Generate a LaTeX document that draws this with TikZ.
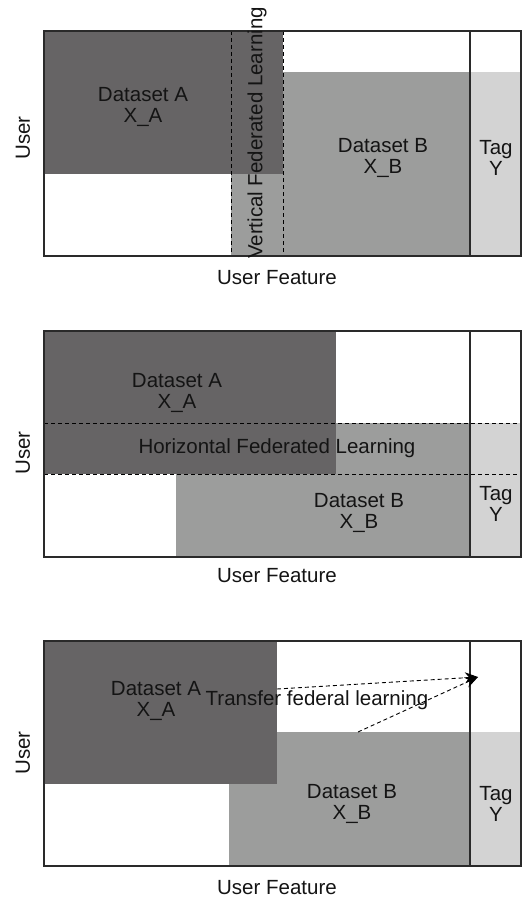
\documentclass[tikz,border=0pt]{standalone}
\usepackage{fontspec}
\setmainfont{Liberation Sans}
\usetikzlibrary{arrows.meta}

\definecolor{darkset}{HTML}{666465}
\definecolor{midset}{HTML}{9C9D9C}
\definecolor{tagset}{HTML}{D3D3D3}
\definecolor{rule}{HTML}{2A2A2A}
\definecolor{ink}{HTML}{141414}

\tikzset{
  block/.style={anchor=north west, inner sep=0pt, outer sep=0pt, draw=none},
  setA/.style={block, fill=darkset},
  setB/.style={block, fill=midset},
  settag/.style={block, fill=tagset},
  framebox/.style={block, draw=rule, line width=1.3pt},
  divider/.style={draw=rule, line width=1.3pt},
  dashrule/.style={draw=black, line width=0.9pt, dash pattern=on 4pt off 3pt},
  lbl/.style={text=ink, font=\fontsize{20.5}{21}\selectfont, align=center, inner sep=0pt},
  axislbl/.style={lbl},
  flow/.style={dashrule, -{Stealth[length=13pt,width=11pt]}}
}

\begin{document}
\begin{tikzpicture}[x=1pt, y=-1pt]
\useasboundingbox (0,0) rectangle (522,899);

% ---------- vertical federated learning ----------
\node[setB, minimum width=239pt, minimum height=184pt] (B1) at (231,72) {};
\node[settag, minimum width=52pt, minimum height=184pt] (T1) at (470,72) {};
\node[setA, minimum width=239pt, minimum height=143pt] (A1) at (44,31) {};
\coordinate (v1t) at (231,31); \coordinate (v1b) at (231,256);
\coordinate (v2t) at (283,31); \coordinate (v2b) at (283,256);
\draw[dashrule] (v1t) -- (v1b);
\draw[dashrule] (v2t) -- (v2b);
\node[framebox, minimum width=477pt, minimum height=225pt] (F1) at (44,31) {};
\coordinate (d1t) at (470,31); \coordinate (d1b) at (470,256);
\draw[divider] (d1t) -- (d1b);
\node[lbl] (la1) at (143,107) {Dataset A\\X\_A};
\node[lbl] (lb1) at (383,158) {Dataset B\\X\_B};
\node[lbl] (lt1) at (496,158) {Tag\\Y};
\node[lbl, rotate=90] (vfl) at (257,133) {Vertical Federated Learning};
\node[axislbl, rotate=90] (u1) at (23,138) {User};
\node[axislbl] (f1) at (277,278) {User Feature};

% ---------- horizontal federated learning ----------
\node[setB, minimum width=294pt, minimum height=134pt] (B2) at (176,423) {};
\node[settag, minimum width=52pt, minimum height=134pt] (T2) at (470,423) {};
\node[setA, minimum width=292pt, minimum height=143pt] (A2) at (44,331) {};
\coordinate (h1l) at (44,423); \coordinate (h1r) at (522,423);
\coordinate (h2l) at (44,474); \coordinate (h2r) at (522,474);
\draw[dashrule] (h1l) -- (h1r);
\draw[dashrule] (h2l) -- (h2r);
\node[framebox, minimum width=477pt, minimum height=226pt] (F2) at (44,331) {};
\coordinate (d2t) at (470,331); \coordinate (d2b) at (470,557);
\draw[divider] (d2t) -- (d2b);
\node[lbl] (la2) at (177,393) {Dataset A\\X\_A};
\node[lbl] (hfl) at (277,448) {Horizontal Federated Learning};
\node[lbl] (lb2) at (359,513) {Dataset B\\X\_B};
\node[lbl] (lt2) at (496,504) {Tag\\Y};
\node[axislbl, rotate=90] (u2) at (23,453) {User};
\node[axislbl] (f2) at (277,576) {User Feature};

% ---------- transfer federated learning ----------
\node[setB, minimum width=241pt, minimum height=134pt] (B3) at (229,732) {};
\node[settag, minimum width=52pt, minimum height=134pt] (T3) at (470,732) {};
\node[setA, minimum width=233pt, minimum height=143pt] (A3) at (44,641) {};
\node[framebox, minimum width=477pt, minimum height=225pt] (F3) at (44,641) {};
\coordinate (d3t) at (470,641); \coordinate (d3b) at (470,866);
\draw[divider] (d3t) -- (d3b);
\node[lbl] (la3) at (156,701) {Dataset A\\X\_A};
\node[lbl] (tfl) at (317,700) {Transfer federal learning};
\node[lbl] (lb3) at (352,804) {Dataset B\\X\_B};
\node[lbl] (lt3) at (496,804) {Tag\\Y};
\coordinate (srcA) at (277,689);
\coordinate (srcB) at (358,732);
\coordinate (goal) at (478,677);
\draw[flow] (srcA) -- (goal);
\draw[flow] (srcB) -- (goal);
\node[axislbl, rotate=90] (u3) at (23,753) {User};
\node[axislbl] (f3) at (277,888) {User Feature};
\end{tikzpicture}
\end{document}
